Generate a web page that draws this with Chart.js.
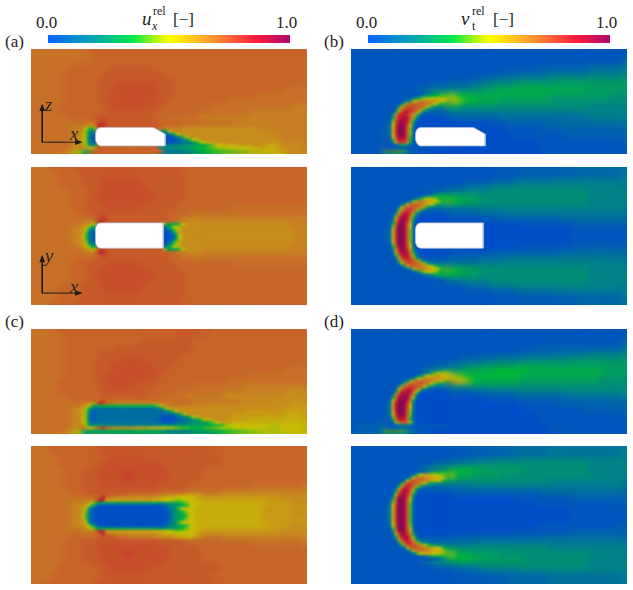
<!DOCTYPE html>
<html>
<head>
<meta charset="utf-8">
<title>Velocity and turbulent viscosity fields</title>
<script src="https://cdn.jsdelivr.net/npm/chart.js@4"></script>
<style>
  html, body { margin: 0; background: #fff; }
  #page { position: relative; width: 633px; height: 590px; overflow: hidden; font-family: "Liberation Serif", "Times New Roman", serif; color: #222; }
  canvas { position: absolute; }
  .txt { position: absolute; font-size: 17px; line-height: 18px; white-space: nowrap; }
  .sym { position: absolute; font-size: 19px; line-height: 20px; font-style: italic; }
  .scr { position: absolute; font-size: 12px; line-height: 12px; }
</style>
</head>
<body>
<div id="page"></div>
<script>
// value of each letter used in the field rows below
const levels = {
  a: 0, b: 0.03, c: 0.07, d: 0.11, e: 0.15, f: 0.19, g: 0.23, h: 0.27, i: 0.31, j: 0.35, k: 0.39, l: 0.43, m: 0.47,
  n: 0.52, o: 0.56, p: 0.6, q: 0.63, r: 0.66, s: 0.69, t: 0.71, u: 0.73, v: 0.75, w: 0.79, x: 0.86, y: 0.93, z: 1
};

const uxSide = [
  'ssssssssss tttttttttt tttttttttt tttttttttt tttttt',
  'ssssssssss tttttttttt tttttttttt tttttttttt tttttt',
  'sssssstttt tttuuuuuuu tttttttttt tttttttttt tttttt',
  'sssssttttt ttuuuuuuuu uutttttttt tttttttttt tttttt',
  'sssssttttt tuuuuuuuuu uuuutttttt tttttttttt tttttt',
  'sssssttttt tuuuvvvvvv vuuutttttt tttttttttt tttttt',
  'sssssttttt tuuvvvvvvv vuuutttttt tttttttttt tttsss',
  'sssssttttt tuuvvvvvvv vuuutttttt ttttttttss ssssss',
  'sssssttttt tuuvvvvvvv vuuttttttt tttsssssss ssssss',
  'sssstttttt tuuvvvvvvu uutttttttt ssssssssss ssssrr',
  'sssstttttt ttuuuuuuuu utttttttss sssssssrrr rrrrrr',
  'sssssstttt uuuuuuuuuu ttttssssrr rrrrrrrrrr rrrrrr',
  'ssssssssst wxuuuuuuuu vuqqrrrrrr rqqqqqqqqr rrrrrr',
  'ssssssrpjf uuuuuuuuuu uuklnqrrqq qqqqqqqqqq rrrrrr',
  'ssssssrqlf tttttttttt ttccdfilnp qqqqqqqqqq qqrrrr',
  'ssssssrqlf tttttttttt ttbbbcdghk mnoqqqqqqq qqrrrr',
  'ssssssrpmi tttttttttt ttfffgghij jjkkllmmnn noqqqq'
];
const uxTop = [
  'ssssttttuu uuuuuuuuuu uuuuuttttt tttttttttt tttttt',
  'ssssttttuu uuvvvvvvuu uuuuuutttt tttttttttt tttttt',
  'ssssttttuu uvvvvvvvvu uuuuuutttt tttttttttt tttttt',
  'sssssstttu uvvvvvvvvv uuuuuutttt tttttttttt tttttt',
  'sssssstttu uvvvvvvvvv vuuuuutttt tttttttttt tttttt',
  'sssssstttu uvvvvvvvvv uuuuuttttt tttttttttt tttttt',
  'sssssstttu uuvvvvvvuu uuuutttttt ttttssssss ssssss',
  'ssssssstuu uuuuuuuuuu uuttttssss ssssssssss ssssss',
  'sssssssstu wxuuuuuuuu utttsssrrr rrrrrrrrrr rrrrrr',
  'sssssssrpk iuuuuuuuuu uughikmoqq qqqqqqqqqq qqqqrr',
  'ssssssrqnf duuuuuuuuu uubflnqqqq qqqqqqqqqq qqqqqr',
  'ssssssrqmd buuuuuuuuu uuadhlpqqq qqqqqqqqqq qqqqqr',
  'ssssssrqnf duuuuuuuuu uubflnqqqq qqqqqqqqqq qqqqqr',
  'sssssssrpk iuuuuuuuuu uughikmoqq qqqqqqqqqq qqqqrr',
  'sssssssstu wxuuuuuuuu utttsssrrr rrrrrrrrrr rrrrrr',
  'ssssssstuu uuuuuuuuuu uuttttssss ssssssssss ssssss',
  'sssssstttu uuvvvvvvuu uuuutttttt ttttssssss ssssss',
  'sssssstttu uvvvvvvvvv uuuuuttttt tttttttttt tttttt',
  'sssssstttu uvvvvvvvvv vuuuuutttt tttttttttt tttttt',
  'sssssstttu uvvvvvvvvv uuuuuutttt tttttttttt tttttt',
  'ssssttttuu uvvvvvvvvu uuuuuutttt tttttttttt tttttt',
  'ssssttttuu uuvvvvvvuu uuuuuutttt tttttttttt tttttt',
  'ssssttttuu uuuuuuuuuu uuuuuttttt tttttttttt tttttt'
];
const nutSide = [
  'bbbbbbbbbb bbbbbbbbbb bbbbbbbbbb bbbbbbbbbb bbbbbb',
  'bbbbbbbbbb bbbbbbbbbb bbbbbbbbbb bbbbbbbbbb bbbbbb',
  'bbbbbbbbbb bbbbbbbbbb bbbbbbbbbb bccccccccc dddddd',
  'bbbbbbbbbb bbbbbbbbbb bbbbbbcccc cccddddddd eeeeee',
  'bbbbbbbbbb bbbbbbbbbb ccddeeeeff ffffgggggg gggggg',
  'bbbbbbbbbb bbbcccdddd eeffggghhh hhhhhhhhhh hhhhhh',
  'bbbbbbbbbb cddeeeffff gghhiiiiii iiiiiiiiii hhhhhh',
  'bbbbbbbbcd fhkmnnmkjj iiiiiiiiii iiihhhhhhh hhhhgg',
  'bbbbbbbchm orrrqpomkj jiiiihhhhh hhhhgggggg gggggg',
  'bbbbbbbgnt vtromkihgg gggggggggg gggggggggg ffffff',
  'bbbbbbclww pjfeeeeeee eeeeeeeeee eeeeeeeeef ffffff',
  'bbbbbchwyw lecccccccc cccccddddd dddddddddd eeeeee',
  'bbbbbcmyyt hbaaaaaaaa aaabbbcccc cccccddddd dddddd',
  'bbbbbdrzyn baaaaaaaaa aaaaaabbbb bbcccccccc cccccc',
  'bbbbbevzxl baaaaaaaaa aaaaaaabbb bbbbbbcccc cccccc',
  'bbbbbdtxwk baaaaaaaaa aaaaaaaaaa abbbbbbbbb bbbbbb',
  'bbbbbbgihd bbbaaaaaaa aaaaaaaaaa aabbbbbbbb bbbbbb'
];
const nutTop = [
  'bbbbbbbbbb bbbbbbbbbb bbbbbbbbbb bbbbbbbbcc cccccc',
  'bbbbbbbbbb bbbbbbbbbb bbbbccccdd ddddeeeeee eeeeee',
  'bbbbbbbbbb bbbbbbbbcc dddeeeefff ffffffffff fffffe',
  'bbbbbbbbbb bbbccddeef fffggggggg gggggggggg ffffff',
  'bbbbbbbbbb dhkkkjiihh hggggggggg gggggggggg ffffff',
  'bbbbbbbbbe mrrrpnkjii hhgggggggg gggggggggg ffffff',
  'bbbbbbbbeo vvqmhfeeee eeffffffff ffffffffff ffffff',
  'bbbbbbbdow vlfccccccc cdddddeeee eeeeeeeeee eeeeee',
  'bbbbbbcjww odbbbbbbbb bbbbcccccc cccccddddd dddddd',
  'bbbbbbfxyt faaaaaaaaa aaaaaaaaab bbbbbbbbcc cccccc',
  'bbbbbcjzyp caaaaaaaaa aaaaaaaaaa aaaaaaabbb bbbbbb',
  'bbbbbclzzo caaaaaaaaa aaaaaaaaaa aaaaaaabbb bbbbbb',
  'bbbbbcjzyp caaaaaaaaa aaaaaaaaaa aaaaaaabbb bbbbbb',
  'bbbbbbfxyt faaaaaaaaa aaaaaaaaab bbbbbbbbcc cccccc',
  'bbbbbbcjww odbbbbbbbb bbbbcccccc cccccddddd dddddd',
  'bbbbbbbdow vlfccccccc cdddddeeee eeeeeeeeee eeeeee',
  'bbbbbbbbeo vvqmhfeeee eeffffffff ffffffffff ffffff',
  'bbbbbbbbbe mrrrpnkjii hhgggggggg gggggggggg ffffff',
  'bbbbbbbbbb dhkkkjiihh hggggggggg gggggggggg ffffff',
  'bbbbbbbbbb bbbccddeef fffggggggg gggggggggg ffffff',
  'bbbbbbbbbb bbbbbbbbcc dddeeeefff ffffffffff fffffe',
  'bbbbbbbbbb bbbbbbbbbb bbbbccccdd ddddeeeeee eeeeee',
  'bbbbbbbbbb bbbbbbbbbb bbbbbbbbbb bbbbbbbbcc cccccc'
];
const uxSideFine = [
  'sssssttttt tttttttttt ttttuuuuuu tttttttttt tttttt',
  'sssssttttt ttttttttuu uuuuuuuttt tttttttttt tttttt',
  'sssssttttt ttttuuuuuu uuuuuuuttt tttttttttt tttttt',
  'sssssttttt tuuuuuuuuu uuuuuuuttt tttttttttt tttttt',
  'sssssttttt tuuuuvvvuu uuuuuttttt tttttttttt tttttt',
  'sssssttttt uuuvvvvvvv uuuutttttt tttttttttt tttttt',
  'sssssttttt uuuvvvvvvv vuuttttttt tttttttttt tttsss',
  'sssssttttt uuvvvvvvvv vutttttttt tttttttsss ssssss',
  'sssstttttt uuvvvvvvvu uttttttttt tttsssssss ssssss',
  'sssstttttt tuuvvvvuuu uttttttsss ssssssrrrr rrrrrr',
  'sssstttttt tuuuuuuuut ttttssssss ssrrrrrrrr rrrqqq',
  'sssssstttt tuuuuuuuuu ttssssrrrr rrrqqqqqqq qqqqqq',
  'ssssssstuw oooooooooo opqrrrrrrr rqqqqqqqqq qqqqpp',
  'ssssssrpnk eeeeeeeeee edhlnqqqqq qqqqqqqqqq qqpppp',
  'ssssssrqlf eeeeeeeeee ddddefinpq qqqqqppppp pppooo',
  'ssssssrqlf eeeeeeeeee dcbabbdfgi jkmnnnnnoo oooooo',
  'ssssssrpmh jjjjjjjjjj jjhgggghhh hijjkkllmm mmnnnn'
];
const uxTopFine = [
  'sssttttttt tuuuuuuuuu uuuuuuuuuu tttttttttt tttttt',
  'sssstttttt tuuvvvvvvu uuuuuuuuuu uutttttttt tttttt',
  'sssstttttt uuvvvvvvvv vvuuuuuuuu uutttttttt tttttt',
  'ssssstttuu uvvvvvvvvv vvvuuuuuut tttttttttt tttttt',
  'ssssstttuu uvvvvwwvvv vvvuuuuuut tttttttttt tttttt',
  'ssssstttuu uvvvvvvvvv vvvuuuuutt tttttttttt tttttt',
  'ssssstttuu uvvvvvvvvv vuuuuutttt tttttttsss ssssss',
  'ssssssttuu uuuuuuuuuu uuttttssss ssrrrrrrrr rrrrrr',
  'sssssssttv wvuttsssrr rqqqqqpppp pppppppppp ppqqqq',
  'ssssssrpnh dddddddddd ddddoooooo oooooooooo ppppqq',
  'ssssssrqlc aaaaaaaaaa aaaaoooooo ooooooooop pppppp',
  'ssssssrqkb aaaaaaaaaa aaaaoooooo ooooooooop ppppqq',
  'ssssssrqlc aaaaaaaaaa aaaaoooooo ooooooooop pppppp',
  'ssssssrpnh dddddddddd ddddoooooo oooooooooo ppppqq',
  'sssssssttv wvuttsssrr rqqqqqpppp pppppppppp ppqqqq',
  'ssssssttuu uuuuuuuuuu uuttttssss ssrrrrrrrr rrrrrr',
  'ssssstttuu uvvvvvvvvv vuuuuutttt tttttttsss ssssss',
  'ssssstttuu uvvvvvvvvv vvvuuuuutt tttttttttt tttttt',
  'ssssstttuu uvvvvwwvvv vvvuuuuuut tttttttttt tttttt',
  'ssssstttuu uvvvvvvvvv vvvuuuuuut tttttttttt tttttt',
  'sssstttttt uuvvvvvvvv vvuuuuuuuu uutttttttt tttttt',
  'sssstttttt tuuvvvvvvu uuuuuuuuuu uutttttttt tttttt',
  'sssttttttt tuuuuuuuuu uuuuuuuuuu tttttttttt tttttt'
];
const nutSideFine = [
  'bbbbbbbbbb bbbbbbbbbb bbbbbbbbbb bbbbbbbbbb bbbbbb',
  'bbbbbbbbbb bbbbbbbbbb bbbbbbbbbb bbbbbbbbbb bbbbbb',
  'bbbbbbbbbb bbbbbbbbbb bbbbbbbbbb bccccccccc cccccc',
  'bbbbbbbbbb bbbbbbbbbb bbbbbbbbcc ccccdddddd eeeeee',
  'bbbbbbbbbb bbbbbbbbcc cdddeeeeee fffffffggg gggggg',
  'bbbbbbbbbb bbbbccddef ffgggggghh hhhhhhhhhh hhhhhh',
  'bbbbbbbbbb bcdeffgghh iiiijjjjjj iiiiiiiiii iiihhh',
  'bbbbbbbbbb ehlnnnmlkj jjjjjjjjji iiiiiiiiii iihhhh',
  'bbbbbbbbci nrrrqqqonl jiiiiiiihh hhhhhhhhhh hhgggg',
  'bbbbbbbbfp vtpkgfffff gggggggggg gggggggggg gggggg',
  'bbbbbbbhvx vlecccccbb cccdddddee eeeeeeffff ffffff',
  'bbbbbbewyw ibaaaaaaaa aabbbbbbcc cccccccddd dddddd',
  'bbbbbbkyzt daaaaaaaaa aaaaaaaabb bbbbcccccc cccccc',
  'bbbbbcpzyo caaaaaaaaa aaaaaaaaab bbbbbbbbbc cccccc',
  'bbbbbctzxm caaaaaaaaa aaaaaaaaaa abbbbbbbbb bbbbbb',
  'bbbbbcrywl caaaaaaaaa aaaaaaaaaa aabbbbbbbb bbbbbb',
  'ccccddijhe dcbaaaaaaa aaaaaaaaaa aaabbbbbbb bbbbbb'
];
const nutTopFine = [
  'bbbbbbbbbb bbbbbbbbbb bbbbbbcccc cccddddddd dddddd',
  'bbbbbbbbbb bbbbbbbccc dddeeeeeff ffffffffff ffffff',
  'bbbbbbbbbb bbbcddeeff fggggggggg gggggggggg ffffff',
  'bbbbbbbbbb bdfhhiijjj iihhhhhhhg gggggggggg ffffff',
  'bbbbbbbbbd hnppppnjii hhhhhggggg gggggggggg gfffff',
  'bbbbbbbbcl rtrpmihggg gggggggggg gggfffffff ffffff',
  'bbbbbbbbir wohedddddd eeeeeeeeee eeeeeeeeee eeeeee',
  'bbbbbbbesx rgcbbbbccc cccccccccc ccdddddddd dddddd',
  'bbbbbbcoxv hbaaaaaaaa aaaaaaabbb bbbbbbbccc cccccc',
  'bbbbbbhwyp caaaaaaaaa aaaaaaaaaa abbbbbbbbb bbbbbc',
  'bbbbbcnzyn baaaaaaaaa aaaaaaaaaa aaaaaaabbb bbbbbb',
  'bbbbbdrzym baaaaaaaaa aaaaaaaaaa aaaaaaabbb bbbbbb',
  'bbbbbcnzyn baaaaaaaaa aaaaaaaaaa aaaaaaabbb bbbbbb',
  'bbbbbbhwyp caaaaaaaaa aaaaaaaaaa abbbbbbbbb bbbbbc',
  'bbbbbbcoxv hbaaaaaaaa aaaaaaabbb bbbbbbbccc cccccc',
  'bbbbbbbesx rgcbbbbccc cccccccccc ccdddddddd dddddd',
  'bbbbbbbbir wohedddddd eeeeeeeeee eeeeeeeeee eeeeee',
  'bbbbbbbbcl rtrpmihggg gggggggggg gggfffffff ffffff',
  'bbbbbbbbbd hnppppnjii hhhhhggggg gggggggggg gfffff',
  'bbbbbbbbbb bdfhhiijjj iihhhhhhhg gggggggggg ffffff',
  'bbbbbbbbbb bbbcddeeff fggggggggg gggggggggg ffffff',
  'bbbbbbbbbb bbbbbbbccc dddeeeeeff ffffffffff ffffff',
  'bbbbbbbbbb bbbbbbbbbb bbbbbbcccc cccddddddd dddddd'
];

// finer rows for the bow structure ahead of the vehicle
const nutSideBow = [
  'bbbbbbbbbbbbbbbcddeeffgg',
  'bbbbbbbbbbbbbbcdefghhhii',
  'bbbbbbbbbbbcdfhiijjkkkjj',
  'bbbbbbbbbcehjlmmnnnnmmlk',
  'bbbbbbbceimoqrrrqqponmkj',
  'bbbbbbdkqtuuttsrqomkjihh',
  'bbbbbgosvvvutsrokigfffff',
  'bbbbclsvwwvuspkgeddddddd',
  'bbbbhrvxxwusnhdccccccccc',
  'bbbfqwxxwtqlfcbbbbbbbbbb',
  'bbbisxxyxuphcaaaaaaaaaaa',
  'bbbktxyyxskdaaaaaaaaaaaa',
  'bbcmvyyywqhbaaaaaaaaaaaa',
  'bbdnwyzyvneaaaaaaaaaaaaa',
  'bbeowzzyuldaaaaaaaaaaaaa',
  'bbeowzzyuldaaaaaaaaaaaaa',
  'bbdowzzyuldaaaaaaaaaaaaa',
  'bbcnvyyyukcaaaaaaaaaaaaa',
  'bbbktxxxtjcaaaaaaaaaaaaa',
  'bbbeovwvricaaaaaaaaaaaaa',
  'bbbbcfhhfdcaaaaaaaaaaaaa',
  'bbbbbbbbbbbbbbbbbbbbbbbb'
];
const nutSideFineBow = [
  'bbbbbbbbbbbbbbbbccdgikkk',
  'bbbbbbbbbbbbbbcehklmmnnm',
  'bbbbbbbbbbbceilnooppooon',
  'bbbbbbbbbcfknpqqqqppoonm',
  'bbbbbbbcglpsttssrqpomkji',
  'bbbbbbdkqtuuutsroljhgfff',
  'bbbbbgptvwwvusnjgedddddd',
  'bbbbcmtwxxwtohdcbbbbbbbb',
  'bbbbhsxxyxunfbaaaaaaaaaa',
  'bbbeqwyyywqgbaaaaaaaaaaa',
  'bbbjtyyzyumdaaaaaaaaaaaa',
  'bbcmvyzzxsibaaaaaaaaaaaa',
  'bbeoxzzzwpgaaaaaaaaaaaaa',
  'bbepxzzyvneaaaaaaaaaaaaa',
  'bbepxzzyvmeaaaaaaaaaaaaa',
  'bbeoxzzyuldaaaaaaaaaaaaa',
  'bbdnwzzyuldaaaaaaaaaaaaa',
  'bbclvyyxtkcaaaaaaaaaaaaa',
  'bbbirxxxsjcaaaaaaaaaaaaa',
  'bbbclqtusmfbaaaaaaaaaaaa',
  'bbbbcdfffdcbbbbbbbbbbbbb',
  'ccccccccccbbbbbbbbbbbbbb'
];
const nutTopBow = [
  'bbbbbbbbbbbbbbbbbbbbbccd',
  'bbbbbbbbbbbbbbbbbcdeffgg',
  'bbbbbbbbbbbbbcdfghiiiiii',
  'bbbbbbbbbbcehkmnnmljiiii',
  'bbbbbbbbcflprrqpoonljihh',
  'bbbbbbchosttsrqonljhgggg',
  'bbbbbemsuvutsplhfeeeeeee',
  'bbbbbkrvwwurlgdccccccccc',
  'bbbbepvxxvqidbbbbbbbbbbb',
  'bbbbktxyxtlebaaaaaaaaaaa',
  'bbbdowyyxricaaaaaaaaaaaa',
  'bbbgrxzywpgbaaaaaaaaaaaa',
  'bbbjtyzyvneaaaaaaaaaaaaa',
  'bbblvzzyumdaaaaaaaaaaaaa',
  'bbcnwzzyuldaaaaaaaaaaaaa',
  'bbdowzzyuldaaaaaaaaaaaaa',
  'bbdowzzyuldaaaaaaaaaaaaa',
  'bbdowzzyuldaaaaaaaaaaaaa',
  'bbcnwzzyuldaaaaaaaaaaaaa',
  'bbblvzzyumdaaaaaaaaaaaaa',
  'bbbjtyzyvneaaaaaaaaaaaaa',
  'bbbgrxzywpgbaaaaaaaaaaaa',
  'bbbdowyyxricaaaaaaaaaaaa',
  'bbbbktxyxtlebaaaaaaaaaaa',
  'bbbbepvxxvqidbbbbbbbbbbb',
  'bbbbbkrvwwurlgdccccccccc',
  'bbbbbemsuvutsplhfeeeeeee',
  'bbbbbbchosttsrqonljhgggg',
  'bbbbbbbbcflprrqpoonljihh',
  'bbbbbbbbbbcehkmnnmljiiii',
  'bbbbbbbbbbbbbcdfghiiiiii',
  'bbbbbbbbbbbbbbbbbcdeffgg',
  'bbbbbbbbbbbbbbbbbbbbbccd'
];
const nutTopFineBow = [
  'bbbbbbbbbbbbbbbbbbcdefgg',
  'bbbbbbbbbbbbbcdfhiiijjji',
  'bbbbbbbbbceimnooonnmlkji',
  'bbbbbbbbchorssrqpooonlji',
  'bbbbbbbdmsuutsrqponnkihg',
  'bbbbbcjrvwvtrpnkihgfffff',
  'bbbbbhqvxwtqkgeddddddddd',
  'bbbbepvxxvpidccccccccccc',
  'bbbbjtxyxtlebbbbbbbbbbbb',
  'bbbcowyywrhcaaaaaaaaaaaa',
  'bbbgsyzywofbaaaaaaaaaaaa',
  'bbckuzzyumdaaaaaaaaaaaaa',
  'bbdmvzzyulcaaaaaaaaaaaaa',
  'bbenwzzyukcaaaaaaaaaaaaa',
  'bbeowzzyukcaaaaaaaaaaaaa',
  'bbfowzzyukcaaaaaaaaaaaaa',
  'bbfowzzyukcaaaaaaaaaaaaa',
  'bbfowzzyukcaaaaaaaaaaaaa',
  'bbeowzzyukcaaaaaaaaaaaaa',
  'bbenwzzyukcaaaaaaaaaaaaa',
  'bbdmvzzyulcaaaaaaaaaaaaa',
  'bbckuzzyumdaaaaaaaaaaaaa',
  'bbbgsyzywofbaaaaaaaaaaaa',
  'bbbcowyywrhcaaaaaaaaaaaa',
  'bbbbjtxyxtlebbbbbbbbbbbb',
  'bbbbepvxxvpidccccccccccc',
  'bbbbbhqvxwtqkgeddddddddd',
  'bbbbbcjrvwvtrpnkihgfffff',
  'bbbbbbbdmsuutsrqponnkihg',
  'bbbbbbbbchorssrqpooonlji',
  'bbbbbbbbbceimnooonnmlkji',
  'bbbbbbbbbbbbbcdfhiiijjji',
  'bbbbbbbbbbbbbbbbbbcdefgg'
];

// finer rows around the stagnation zone and the wake of the velocity panels
const uxSideNose = [
  'ssssssstuv',
  'ssssrrsuwv',
  'ssrqppqwyx',
  'srqnkjmrtt',
  'srplheftuu',
  'rqolgdcduu',
  'rqolfcbcuu',
  'rqolfcbcuu',
  'rqolgdcduu',
  'rrpmifgktt',
  'ssrqonptwx'
];
const uxSideWake = [
  'tttttttttt ttttttssss ssssssssss rrrrrrrrrr',
  'tttttttttt ttssssssss ssssssrrrr rrrrrrrrrr',
  'vutssssssr rrrrrrrrrr rrrrrrrrrr rrrrrrrrrr',
  'nqsrrrrrrq qqqqqqqqqq qqqqqqqqqq qqqqqqrrrr',
  'ggginpqrrq qqqqqqqqqq qqqqqqqqqq qqqqqqqqqq',
  'ccccehknpq qqqqqqqqqq qqqqqqqqqq qqqqqqqqqq',
  'ccbabbdfil npqqqqqqqq qqqqqqqqqq qqqqqqqqqq',
  'ccbaaaacdf hkmnopqqqq qqqqqqqqqq qqqqqqqqqq',
  'ccbbbbccde efgikmnoop pqqqqqqqqq qqqqqqqqqq',
  'ddeeeffffg ggghhiijkl mnnooooppp pppqqqqqqq',
  'ggggggghhh hiijjjjkkl lmmmmnnnnn nnoooopppp'
];
const uxSideFineBody = [
  'sssssstuwx vuuuuuuuuu uuuuuuuuuu uutttttttt ssssssssss sssssssrrr rrrrrrrr',
  'ssrrqpqvxw sssrrrrrrr rrrrrrrrrr rrrsssssss rrrrrrrrrr rrrrrrrqqq qqqqqqqq',
  'srqpnkhijj jjjjjjjjjj jjjjjjjklo qrrrrrrrrr rrrrrrqqqq qqqqqqqqqq qqqqqqqq',
  'rqpmifdddd dddddddddd ddddddddfh kmoqqqqqqq qqqqqqqqqq qqqqqqqqqq qqqqqqpp',
  'rqolgdbddd dddddddddd dddddddddd efhknpqqqq qqqqqqqqqq qqqqqqqqpp pppppppp',
  'rqolfcbddd dddddddddd dddddddddc ccddfhknpq qqqqqqqqqq qqqqpppppp pppppppp',
  'rqolfcbddd dddddddddd dddddddddc babbcdefhk mopqqqqqqq qqqppppppp pppppooo',
  'rqolfcbddd dddddddddd ddddddddcb aaabbcdeef ghjlnoopqq qqpppppppo oooooooo',
  'rqolgdcddd dddddddddd dddddddddc bbbcddeeff ggghhjklno ppppoooooo oooooooo',
  'rrpmifgggg ffffffffff ffffffffff gggggggghh hhhhiiijjk klmmnnnnnn nnnnnnnn',
  'sssqonqsvw ssrqqqqqqq pppppoooon nmmmllkkkj jjjjkkklll mmmmnnnnnn nnnnnnnn'
];
const uxTopNose = [
  'ssssssstuu',
  'ssssssttvw',
  'ssrrrqsvyx',
  'srrqponrxw',
  'srqomiiruu',
  'rqpmhfciuu',
  'rqplfdbbuu',
  'rqokfdaauu',
  'rqokfdaauu',
  'rqplfdbbuu',
  'rqpmhfciuu',
  'srqomiiruu',
  'srrqponrxw',
  'ssrrrqsvyx',
  'ssssssttvw',
  'ssssssstuu'
];
const uxTopWake = [
  'uuuuttttssssrrrq',
  'uuuuttssrrrrrqqq',
  'uuuuttsrrrrqqqqq',
  'uuojhhijnopqqqqq',
  'uudgjmnopqqqqqqq',
  'uubcfjmopqqqqqqq',
  'uuabcgkopqqqqqqq',
  'uuaabcgmoqqqqqqq',
  'uuaabcgmoqqqqqqq',
  'uuabcgkopqqqqqqq',
  'uubcfjmopqqqqqqq',
  'uudgjmnopqqqqqqq',
  'uuojhhijnopqqqqq',
  'uuuuttsrrrrqqqqq',
  'uuuuttssrrrrrqqq',
  'uuuuttttssssrrrq'
];
const uxTopFineBody = [
  'ssssssstuv uuuttsssrr rrrrrrrrqq qqqppoooon oooo',
  'ssssssttvx ssrrqqqqqq qqqqqqqqpp oooonnnnnn nooo',
  'ssrrrqsvyw qppppppppp ppppppoooo nnnmllmmnn nnoo',
  'srrqonkhii ghhhhhhhhh hhhhhhhhgg ghhhiijkln nnno',
  'srqomigcaa aaaaaaaaaa aaaaaaaaab cefgghijkm nnoo',
  'rqpmgdbaaa aaaaaaaaaa aaaaaaaaaa bcefhkmnnn nooo',
  'rqplfcbaaa aaaaaaaaaa aaaaaaaaaa bbdfhijlmn nooo',
  'rqokfcaaaa aaaaaaaaaa aaaaaaaaaa bbdfghijln nooo',
  'rqokfcaaaa aaaaaaaaaa aaaaaaaaaa bbdfghijln nooo',
  'rqplfcbaaa aaaaaaaaaa aaaaaaaaaa bbdfhijlmn nooo',
  'rqpmgdbaaa aaaaaaaaaa aaaaaaaaaa bcefhkmnnn nooo',
  'srqomigcaa aaaaaaaaaa aaaaaaaaab cefgghijkm nnoo',
  'srrqonkhii ghhhhhhhhh hhhhhhhhgg ghhhiijkln nnno',
  'ssrrrqsvyw qppppppppp ppppppoooo nnnmllmmnn nnoo',
  'ssssssttvx ssrrqqqqqq qqqqqqqqpp oooonnnnnn nooo',
  'ssssssstuv uuuttsssrr rrrrrrrrqq qqqppoooon oooo'
];

// vehicle outlines and axis triads, in panel lengths
const carSideX = [67, 122, 134, 134, 67, 65, 63.5, 62.3, 62, 62.2, 63, 64.5, 67];
const carSideY = [81, 81, 88, 101, 101, 100, 98, 95, 91, 87, 84, 82, 81];
const carTopX = [67, 132, 132, 67, 64.5, 63, 62, 62, 63, 64.5, 67];
const carTopY = [55, 55, 82, 82, 81, 79, 76, 61, 58, 56, 55];
const triadSideX = [7, 7, 47];
const triadSideY = [57, 97, 97];
const triadTopX = [7, 7, 47];
const triadTopY = [91, 130, 130];

const colorStops = [0, 0.2, 0.353, 0.44, 0.504, 0.68, 0.855, 1];
const colorValues = [[0, 100, 255], [0, 170, 170], [0, 235, 70], [170, 245, 20], [255, 255, 0], [255, 150, 50], [255, 30, 60], [170, 10, 110]];
const fieldShade = 0.78;

const colorbarTicks = ['0.0', '1.0'];

const page = document.getElementById('page');

function levelColor (v, shade, alpha = 1) {
  let i = 0;
  while (i < colorStops.length - 2 && v > colorStops[i + 1]) i++;
  const t = (v - colorStops[i]) / (colorStops[i + 1] - colorStops[i]);
  const mix = colorValues[i].map((c, k) => Math.round((c + t * (colorValues[i + 1][k] - c)) * shade));
  return `rgba(${mix[0]}, ${mix[1]}, ${mix[2]}, ${alpha})`;
}

function addCanvas (left, top, w, h) {
  const canvas = document.createElement('canvas');
  canvas.width = w;
  canvas.height = h;
  canvas.style.left = left + 'px';
  canvas.style.top = top + 'px';
  canvas.style.width = w + 'px';
  canvas.style.height = h + 'px';
  page.appendChild(canvas);
  return canvas;
}

// the cell mosaics are smoothed once drawn; the edges are stretched first so they keep their colour
const softenCells = {
  id: 'softenCells',
  afterDatasetDraw (chart, args) {
    const radius = chart.data.datasets[args.index].softness;
    if (!radius) return;
    const pad = 10;
    const { ctx, canvas, width, height } = chart;
    const off = document.createElement('canvas');
    off.width = width + pad * 2;
    off.height = height + pad * 2;
    const o = off.getContext('2d');
    o.drawImage(canvas, 0, 0, width, height, 0, 0, off.width, off.height);
    o.drawImage(canvas, pad, pad, width, height);
    ctx.save();
    ctx.filter = `blur(${radius}px)`;
    ctx.drawImage(off, -pad, -pad);
    ctx.restore();
  }
};

function toPoints (xs, ys) {
  return xs.map((x, i) => ({ x, y: ys[i] }));
}

function cellPoints (rows, x0, y0, dx, dy, fade) {
  const pts = [];
  rows.forEach((r, j) => {
    const row = r.replace(/ /g, '');
    for (let i = 0; i < row.length; i++) {
      // detail rows melt into the coarse field at their sides and top
      const a = fade ? Math.min(1, (i + 1) / 3, (row.length - i) / 5, (j + 1) / 2) : 1;
      pts.push({
        x: x0 + (i + 0.5) * dx,
        y: y0 + (j + 0.5) * dy,
        v: levels[row[i]],
        a
      });
    }
  });
  return pts;
}

function arrowHead (x, y, dx, dy) {
  // small filled triangle at the end of a triad leg
  return [
    { x: x - 6 * dx - 3 * dy, y: y - 6 * dy - 3 * dx },
    { x: x + 2 * dx, y: y + 2 * dy },
    { x: x - 6 * dx + 3 * dy, y: y - 6 * dy + 3 * dx },
    { x: x - 6 * dx - 3 * dy, y: y - 6 * dy - 3 * dx }
  ];
}

function cellDataset (data, radius, softness) {
  return {
    data,
    softness,
    pointStyle: 'rect',
    pointRadius: radius,
    pointBorderWidth: 0,
    pointBackgroundColor: c => levelColor(c.raw.v, fieldShade, c.raw.a)
  };
}

function drawPanel (left, top, h, rows, opts) {
  const w = 276;
  const canvas = addCanvas(left, top, w, h);
  const { carX, carY, triadX, triadY, details } = opts;
  const datasets = [];
  if (triadX) {
    const ink = '#1c1c1c';
    datasets.push({ data: toPoints(triadX, triadY), showLine: true, borderColor: ink, borderWidth: 1, pointRadius: 0 });
    datasets.push({ data: arrowHead(triadX[0], triadY[0], 0, -1), showLine: true, borderWidth: 0, borderColor: ink, backgroundColor: ink, fill: 'shape', pointRadius: 0 });
    datasets.push({ data: arrowHead(triadX[2], triadY[2], 1, 0), showLine: true, borderWidth: 0, borderColor: ink, backgroundColor: ink, fill: 'shape', pointRadius: 0 });
  }
  if (carX) {
    datasets.push({ data: toPoints(carX, carY), showLine: true, borderColor: '#b9c0d0', borderWidth: 0.8, backgroundColor: '#fff', fill: 'shape', pointRadius: 0 });
  }
  const fine = details.flatMap(d => cellPoints(d.rows, d.x, d.y, 3, 3, true));
  datasets.push(cellDataset(fine, 2.3, 1.3));
  datasets.push(cellDataset(cellPoints(rows, 0, 0, w / 46, h / rows.length, false), 4.45, 2.8));
  new Chart(canvas, {
    type: 'scatter',
    data: { datasets },
    plugins: [softenCells],
    options: {
      responsive: false,
      animation: false,
      events: [],
      layout: { padding: 0 },
      plugins: { legend: { display: false }, tooltip: { enabled: false } },
      scales: {
        x: { type: 'linear', display: false, min: 0, max: w },
        y: { type: 'linear', display: false, min: 0, max: h, reverse: true }
      }
    }
  });
}

function drawColorbar (left) {
  const canvas = addCanvas(left, 35, 242, 8);
  new Chart(canvas, {
    type: 'bar',
    data: {
      labels: [''],
      datasets: [{
        data: [1],
        barPercentage: 1,
        categoryPercentage: 1,
        backgroundColor: c => {
          const g = c.chart.ctx.createLinearGradient(0, 0, 242, 0);
          colorStops.forEach(s => g.addColorStop(s, levelColor(s, 1)));
          return g;
        }
      }]
    },
    options: {
      indexAxis: 'y',
      responsive: false,
      animation: false,
      events: [],
      layout: { padding: 0 },
      plugins: { legend: { display: false }, tooltip: { enabled: false } },
      scales: {
        x: { display: false, min: 0, max: 1 },
        y: { display: false }
      }
    }
  });
}

function addText (cls, left, top, html) {
  const el = document.createElement('span');
  el.className = cls;
  el.style.left = left + 'px';
  el.style.top = top + 'px';
  el.innerHTML = html;
  page.appendChild(el);
}

const carSide = { carX: carSideX, carY: carSideY };
const carTop = { carX: carTopX, carY: carTopY };

drawPanel(31, 49, 105, uxSide, {
  ...carSide,
  triadX: triadSideX,
  triadY: triadSideY,
  details: [{ rows: uxSideNose, x: 42, y: 72 }, { rows: uxSideWake, x: 125, y: 72 }]
});
drawPanel(31, 167, 138, uxTop, {
  ...carTop,
  triadX: triadTopX,
  triadY: triadTopY,
  details: [{ rows: uxTopNose, x: 42, y: 46 }, { rows: uxTopWake, x: 126, y: 46 }]
});
drawPanel(351, 49, 105, nutSide, { ...carSide, details: [{ rows: nutSideBow, x: 28.5, y: 39 }] });
drawPanel(351, 167, 138, nutTop, { ...carTop, details: [{ rows: nutTopBow, x: 28.5, y: 19 }] });
drawPanel(31, 329, 105, uxSideFine, { details: [{ rows: uxSideFineBody, x: 42, y: 72 }] });
drawPanel(31, 446, 138, uxTopFine, { details: [{ rows: uxTopFineBody, x: 42, y: 46 }] });
drawPanel(351, 329, 105, nutSideFine, { details: [{ rows: nutSideFineBow, x: 28.5, y: 39 }] });
drawPanel(351, 446, 138, nutTopFine, { details: [{ rows: nutTopFineBow, x: 28.5, y: 19 }] });

drawColorbar(48);
drawColorbar(368);

addText('txt', 36, 14, colorbarTicks[0]);
addText('txt', 276, 14, colorbarTicks[1]);
addText('txt', 356, 14, colorbarTicks[0]);
addText('txt', 596, 14, colorbarTicks[1]);

addText('sym', 142, 9, 'u');
addText('scr', 153, 5, 'rel');
addText('scr', 152, 20, '<i>x</i>');
addText('txt', 173, 11, '[−]');
addText('sym', 461, 9, 'ν');
addText('scr', 472, 5, 'rel');
addText('scr', 472, 20, 't');
addText('txt', 493, 11, '[−]');

addText('txt', 5, 33, '(a)');
addText('txt', 324, 33, '(b)');
addText('txt', 5, 313, '(c)');
addText('txt', 324, 313, '(d)');

addText('sym', 45, 95, 'z');
addText('sym', 70, 124, 'x');
addText('sym', 45, 246, 'y');
addText('sym', 70, 277, 'x');
</script>
</body>
</html>
